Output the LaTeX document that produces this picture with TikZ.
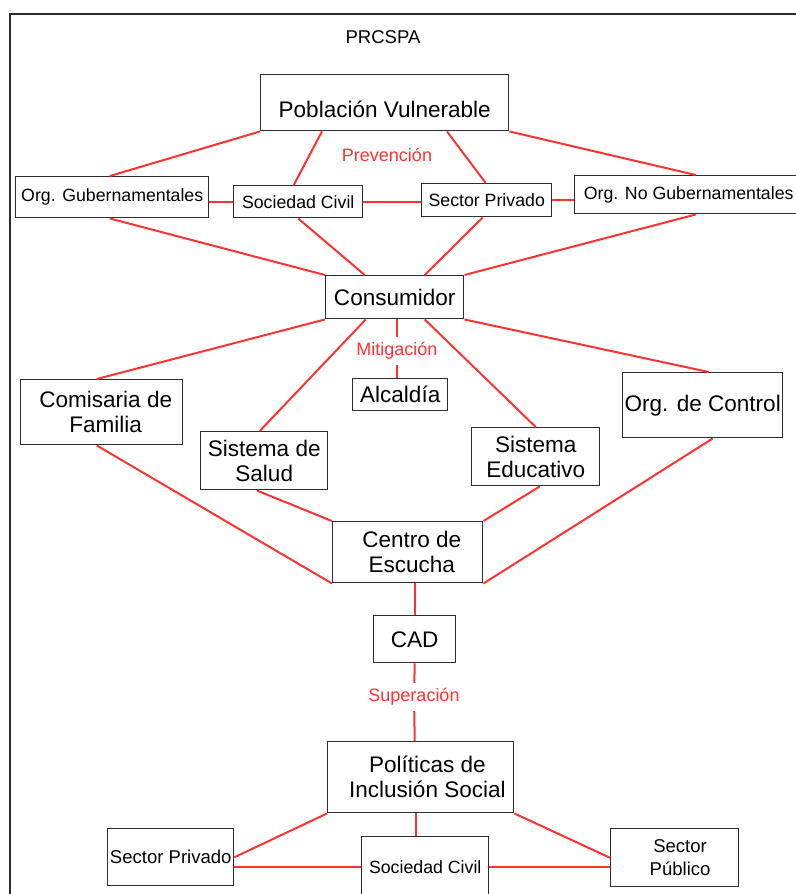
\documentclass[tikz,border=0pt]{standalone}
\usepackage{fontspec}
\setmainfont{Liberation Sans}
\usetikzlibrary{calc}
\definecolor{linkred}{RGB}{255,50,50}
\definecolor{boxgray}{RGB}{45,45,45}
% indents a line so that a centred block sits slightly right of centre
\newcommand\nudge[1]{\hspace*{#1}}
\begin{document}
\begin{tikzpicture}[x=0.75pt,y=-0.75pt,
  box/.style={draw=boxgray, line width=1.1pt, inner sep=0pt, align=center, text=black, anchor=north west},
  wh/.style 2 args={minimum width=#1*0.75pt, minimum height=#2*0.75pt},
  big/.style={font=\fontsize{16.9}{18.75}\selectfont},
  small/.style={font=\fontsize{13.3}{16}\selectfont},
  mid/.style={font=\fontsize{13.9}{17.25}\selectfont},
  lbl/.style={text=linkred, font=\fontsize{13.5}{16}\selectfont, inner sep=4pt},
  link/.style={draw=linkred, line width=1.5pt}]
\useasboundingbox (0,0) rectangle (796,894);
\clip (0,0) rectangle (796,894);

% outer frame
\draw[boxgray, line width=1.5pt] (9.5,900) -- (9.5,13.5) -- (800,13.5);

% title and phase labels
\node[text=black, font=\fontsize{13.9}{16}\selectfont] (title) at (383,37) {PRCSPA};
\node[lbl] (prev) at (387,155) {Prevención};
\node[lbl] (mit) at (397,351) {Mitigación};
\node[lbl] (sup) at (414,697) {Superación};

% prevention level
\node[box, big, wh={248}{56}, text height=22pt, text depth=0pt] (pv) at (260,74) {Población Vulnerable};
\node[box, small, wh={193}{41}] (og) at (15,176) {Org. Gubernamentales};
\node[box, small, wh={129}{32}] (sc) at (233,185) {Sociedad Civil};
\node[box, small, wh={130}{33}] (sp) at (421,183) {Sector Privado};
\node[box, small, wh={228}{38}] (ong) at (574,175) {Org. No Gubernamentales};
\node[box, big, wh={138}{43}] (cons) at (325,275) {Consumidor};

% mitigation level
\node[box, big, wh={95}{32}] (alc) at (352,378) {Alcaldía};
\node[box, big, wh={162}{65}] (com) at (20,379) {\nudge{6pt}Comisaria de\\\nudge{6pt}Familia};
\node[box, big, wh={127}{58}] (salud) at (200,431) {Sistema de\\Salud};
\node[box, big, wh={128}{58}] (edu) at (471,427) {Sistema\\Educativo};
\node[box, big, wh={160}{65}] (ctrl) at (622,372) {Org. de Control};
\node[box, big, wh={150}{61}] (centro) at (332,521) {\nudge{6pt}Centro de\\\nudge{6pt}Escucha};
\node[box, big, wh={82}{47}] (cad) at (373,615) {CAD};

% overcoming level
\node[box, big, wh={186}{71}] (pol) at (327,741) {\nudge{10pt}Políticas de\\\nudge{10pt}Inclusión Social};
\node[box, mid, wh={126}{57}] (spb) at (107,828) {Sector Privado};
\node[box, small, wh={127}{60}] (scb) at (361,836) {Sociedad Civil};
\node[box, mid, wh={128}{58}] (spub) at (610,828) {\nudge{8pt}Sector\\\nudge{8pt}Público};

% links: prevention
\draw[link] (pv.south west) -- ($(og.north)+(-2.5,0)$);
\draw[link] ($(pv.south west)+(62,0)$) -- ($(sc.north)+(-4.5,0)$);
\draw[link] ($(pv.south west)+(187,0)$) -- ($(sp.north)+(-1,0)$);
\draw[link] (pv.south east) -- ($(ong.north)+(7,0)$);
\draw[link] (sc.west) -- (sc.west -| og.east);
\draw[link] (sc.east) -- (sc.east -| sp.west);
\draw[link] (sp.east) -- (sp.east -| ong.west);
\draw[link] ($(og.south)+(-2.5,0)$) -- (cons.north west);
\draw[link] (sc.south) -- ($(cons.north)+(-30,0)$);
\draw[link] ($(sp.south)+(-4,0)$) -- ($(cons.north)+(30,0)$);
\draw[link] ($(ong.south)+(7,0)$) -- (cons.north east);

% links: mitigation
\draw[link] (cons.south west) -- ($(com.north)+(-5,0)$);
\draw[link] ($(cons.south)+(-29,0)$) -- ($(salud.north)+(-4.5,0)$);
\draw[link] (cons.south -| mit) -- (mit) -- (alc.north -| mit);
\draw[link] ($(cons.south)+(30,0)$) -- (edu.north);
\draw[link] (cons.south east) -- ($(ctrl.north)+(6,0)$);
\draw[link] ($(com.south)+(-5,0)$) -- (centro.south west);
\draw[link] ($(salud.south)+(-7.5,0)$) -- (centro.north west);
\draw[link] ($(edu.south)+(4,0)$) -- (centro.north east);
\draw[link] ($(ctrl.south)+(10,0)$) -- (centro.south east);
\draw[link] (cad.north) -- (cad.north |- centro.south);

% links: overcoming
\draw[link] (cad.south) -- (sup) -- (cad.south |- pol.north);
\draw[link] (pol.south west) -- (spb.east);
\draw[link] ($(pol.south)+(-5,0)$) -- ($(scb.north)+(-9.5,0)$);
\draw[link] (pol.south east) -- (spub.west);
\draw[link] (scb.west) -- (scb.west -| spb.east);
\draw[link] (scb.east) -- (scb.east -| spub.west);
\end{tikzpicture}
\end{document}
